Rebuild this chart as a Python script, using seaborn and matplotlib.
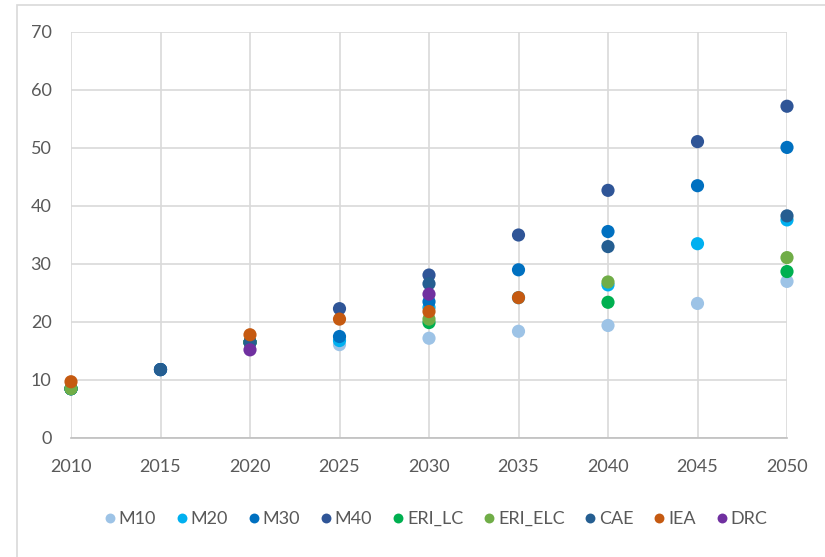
import numpy as np
import pandas as pd
import matplotlib.pyplot as plt
import seaborn as sns
from matplotlib.patches import Rectangle

years = [2010, 2015, 2020, 2025, 2030, 2035, 2040, 2045, 2050]
nan = np.nan

m10 = [8.5, 11.8, 16.5, 16.1, 17.2, 18.4, 19.4, 23.2, 27.0]
m20 = [8.5, 11.8, 16.5, 16.8, 22.5, 24.2, 26.4, 33.5, 37.6]
m30 = [8.5, 11.8, 16.5, 17.5, 23.5, 29.0, 35.6, 43.5, 50.1]
m40 = [8.5, 11.8, 16.5, 22.3, 28.1, 35.0, 42.7, 51.1, 57.2]
eri_lc = [8.5, nan, 16.5, nan, 19.9, nan, 23.4, nan, 28.7]
eri_elc = [8.5, nan, 16.5, nan, 20.5, nan, 26.9, nan, 31.1]
cae = [nan, 11.8, 16.5, nan, 26.6, nan, 33.0, nan, 38.3]
iea = [9.7, nan, 17.8, 20.5, 21.8, 24.2, nan, nan, nan]
drc = [nan, nan, 15.2, nan, 24.8, nan, nan, nan, nan]

series = ['M10', 'M20', 'M30', 'M40', 'ERI_LC', 'ERI_ELC', 'CAE', 'IEA', 'DRC']
colores = ['#9DC3E6', '#00B0F0', '#0070C0', '#2F5597', '#00B050',
           '#70AD47', '#255E91', '#C55A11', '#7030A0']

df = pd.DataFrame({'year': years, 'M10': m10, 'M20': m20, 'M30': m30, 'M40': m40,
                   'ERI_LC': eri_lc, 'ERI_ELC': eri_elc, 'CAE': cae, 'IEA': iea, 'DRC': drc})
largo = df.melt(id_vars='year', var_name='serie', value_name='valor').dropna()

sns.set_style('white')
plt.rcParams['font.family'] = ['Lato', 'DejaVu Sans']

fig = plt.figure(figsize=(8.25, 5.57), dpi=100)
ax = fig.add_axes([71/825, 1 - 438/557, (787 - 71)/825, (438 - 32)/557])

sns.scatterplot(data=largo, x='year', y='valor', hue='serie', hue_order=series,
                palette=dict(zip(series, colores)), s=90, linewidth=0, ax=ax,
                zorder=3, clip_on=False)

ax.set_xlim(2010, 2050)
ax.set_ylim(0, 70)
ax.set_xticks(range(2010, 2051, 5))
ax.set_yticks(range(0, 71, 10))
ax.grid(True, color='#D9D9D9', linewidth=1.2)
ax.set_axisbelow(True)
for lado in ['left', 'top', 'right']:
  ax.spines[lado].set_visible(False)
ax.spines['bottom'].set_color('#BFBFBF')
ax.spines['bottom'].set_linewidth(1.2)
ax.tick_params(axis='both', length=0, labelsize=13, labelcolor='#595959')
ax.tick_params(axis='y', pad=14)
ax.tick_params(axis='x', pad=15)
ax.set_xlabel('')
ax.set_ylabel('')

handles, labels = ax.get_legend_handles_labels()
ax.legend(handles, labels, loc='center', bbox_to_anchor=((434 - 71)/716, (438 - 519)/406),
          ncol=9, frameon=False, fontsize=13, labelcolor='#595959',
          handletextpad=0.0, columnspacing=0.92, handlelength=1.0, markerscale=0.75)

fig.patches.append(Rectangle((17/825, -0.1), 1.2, (557 - 5)/557 + 0.1,
                             transform=fig.transFigure, fill=False,
                             edgecolor='#D9D9D9', linewidth=1.2))

fig.savefig('out.png', dpi=100)
